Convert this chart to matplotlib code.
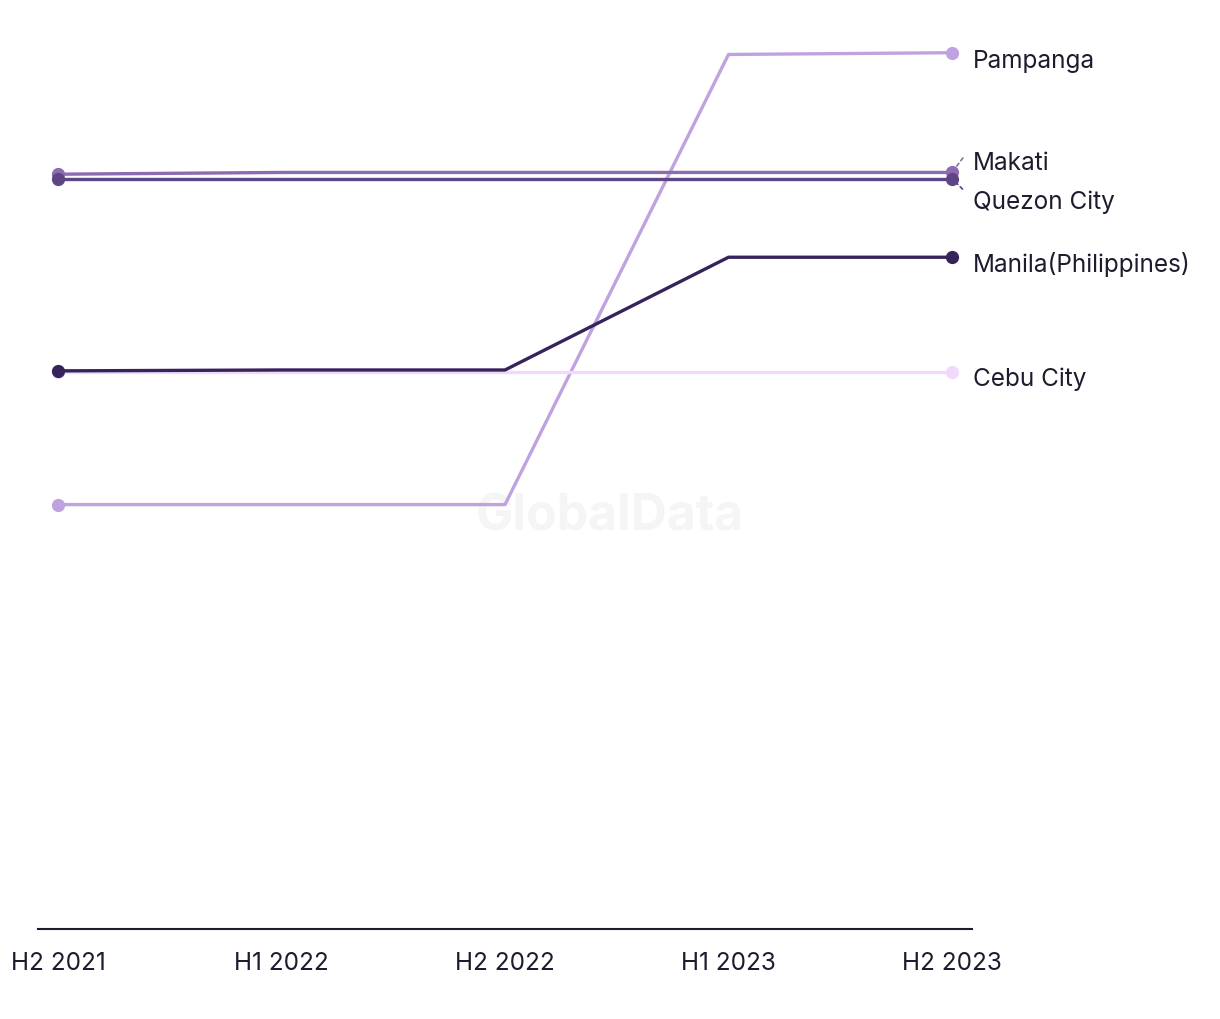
import matplotlib
matplotlib.use("Agg")
import matplotlib.pyplot as plt

periods = ["H2 2021", "H1 2022", "H2 2022", "H1 2023", "H2 2023"]

# values (no y axis shown, arbitrary units)
pampanga = [48.5, 48.5, 48.5, 100.0, 100.2]
makati = [86.3, 86.5, 86.5, 86.5, 86.5]
quezon = [85.8, 85.8, 85.8, 85.8, 85.8]
manila = [63.8, 63.9, 63.9, 76.8, 76.8]
cebu = [63.7, 63.7, 63.7, 63.7, 63.7]

series = [
    ("Pampanga", pampanga, "#bfa3e0"),
    ("Cebu City", cebu, "#f0d9fb"),
    ("Makati", makati, "#8c6bb1"),
    ("Quezon City", quezon, "#5e4585"),
    ("Manila(Philippines)", manila, "#35235a"),
]

plt.rcParams["font.family"] = ["Inter", "DejaVu Sans"]
text_col = "#1c1c2e"

fig = plt.figure(figsize=(12.2, 10.2), dpi=100)
ax = fig.add_axes([38 / 1220, 90.5 / 1020, 934 / 1220, 909 / 1020])

x = list(range(len(periods)))
for name, vals, col in series:
    ax.plot(x, vals, color=col, lw=2.4, solid_capstyle="round")
    ax.plot([x[0], x[-1]], [vals[0], vals[-1]], "o", color=col, ms=8.5)

# end labels, Makati / Quezon nudged apart with leader lines
offsets = {"Pampanga": (15, -5.5), "Cebu City": (15, -4.5), "Manila(Philippines)": (15, -4.5),
           "Makati": (15, 7.5), "Quezon City": (15, -16.5)}
for name, vals, col in series:
    dx, dy = offsets[name]
    ax.annotate(name, (x[-1], vals[-1]), xytext=(dx, dy), textcoords="offset points",
                fontsize=17.5, color=text_col, va="center", ha="left")
ax.annotate("", (x[-1], makati[-1]), xytext=(9, 12), textcoords="offset points",
            arrowprops=dict(arrowstyle="-", ls=(0, (2, 2)), color="#8c6bb1", lw=1.2))
ax.annotate("", (x[-1], quezon[-1]), xytext=(9, -9), textcoords="offset points",
            arrowprops=dict(arrowstyle="-", ls=(0, (2, 2)), color="#5e4585", lw=1.2))

ax.text(0.5, 0.493, "GlobalData", transform=fig.transFigure, fontsize=36,
        fontweight="bold", color="#f5f5f5", ha="center", va="center", zorder=0)

ax.set_xlim(-20 / 223.5, 4 + 20 / 223.5)
ax.set_ylim(0, 104)
ax.set_xticks(x)
ax.set_xticklabels(periods, fontsize=17.5, color=text_col)
ax.tick_params(axis="x", length=0, pad=16.5)
ax.set_yticks([])
for s in ["top", "right", "left"]:
    ax.spines[s].set_visible(False)
ax.spines["bottom"].set_color(text_col)
ax.spines["bottom"].set_linewidth(1.5)

fig.savefig("out.png", dpi=100)
